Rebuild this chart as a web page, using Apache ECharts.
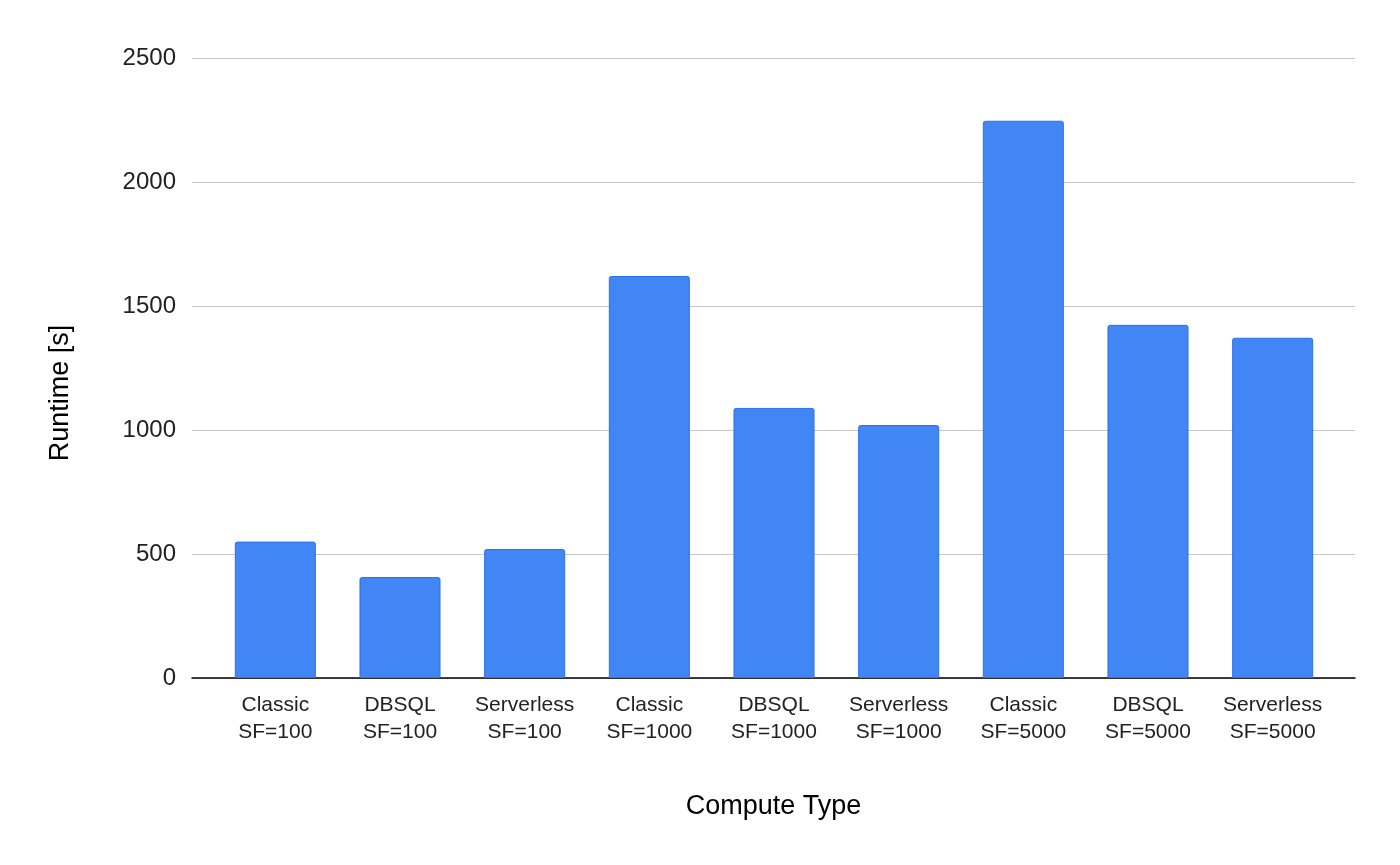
<!DOCTYPE html>
<html>
<head>
<meta charset="utf-8">
<script src="https://cdn.jsdelivr.net/npm/echarts@6/dist/echarts.min.js"></script>
<style>
  html, body { margin: 0; padding: 0; background: #fff; }
  #chart { width: 1400px; height: 865px; }
</style>
</head>
<body>
<div id="chart"></div>
<script>
// data
var categories = [
  'Classic\nSF=100', 'DBSQL\nSF=100', 'Serverless\nSF=100',
  'Classic\nSF=1000', 'DBSQL\nSF=1000', 'Serverless\nSF=1000',
  'Classic\nSF=5000', 'DBSQL\nSF=5000', 'Serverless\nSF=5000'
];
var runtimes = [550, 407, 520, 1621, 1089, 1020, 2247, 1424, 1372];
var yTicks = [0, 500, 1000, 1500, 2000, 2500];

var chart = echarts.init(document.getElementById('chart'));

var yMin = yTicks[0];
var yMax = yTicks[yTicks.length - 1];

var option = {
  backgroundColor: '#fff',
  textStyle: { fontFamily: '"Liberation Sans", Arial, sans-serif' },
  // grid 0: gridlines, y labels and baseline; grid 1: the bars, inset like the original
  grid: [
    { left: 192, right: 45, top: 58, bottom: 187 },
    { left: 213, right: 65, top: 58, bottom: 187 }
  ],
  xAxis: [{
    gridIndex: 0,
    type: 'category',
    data: categories,
    name: 'Compute Type',
    nameLocation: 'middle',
    nameGap: 115,
    nameTextStyle: { fontSize: 27, color: '#000' },
    axisLine: { lineStyle: { color: '#000', width: 1.5 } },
    axisTick: { show: false },
    axisLabel: { show: false }
  }, {
    gridIndex: 1,
    type: 'category',
    data: categories,
    axisLine: { show: false },
    axisTick: { show: false },
    axisLabel: {
      interval: 0,
      color: '#222',
      fontSize: 21,
      lineHeight: 27,
      margin: 14
    }
  }],
  yAxis: [{
    gridIndex: 0,
    type: 'value',
    min: yMin,
    max: yMax,
    interval: 500,
    name: 'Runtime [s]',
    nameLocation: 'middle',
    nameGap: 118,
    nameTextStyle: { fontSize: 27, color: '#000', padding: [0, 50, 0, 0] },
    axisLine: { show: false },
    axisTick: { show: false },
    axisLabel: {
      color: '#222',
      fontSize: 24,
      margin: 16,
      formatter: function (v) { return String(v); }
    },
    splitLine: { lineStyle: { color: '#c8c8c8', width: 1 } }
  }, {
    gridIndex: 1,
    type: 'value',
    min: yMin,
    max: yMax,
    interval: 500,
    show: false,
    splitLine: { show: false }
  }],
  series: [{
    type: 'bar',
    xAxisIndex: 1,
    yAxisIndex: 1,
    data: runtimes,
    barWidth: '65%',
    itemStyle: {
      color: '#4285f4',
      borderColor: '#2a72e8',
      borderWidth: 1,
      borderRadius: [2, 2, 0, 0]
    }
  }]
};

chart.setOption(option);
</script>
</body>
</html>
